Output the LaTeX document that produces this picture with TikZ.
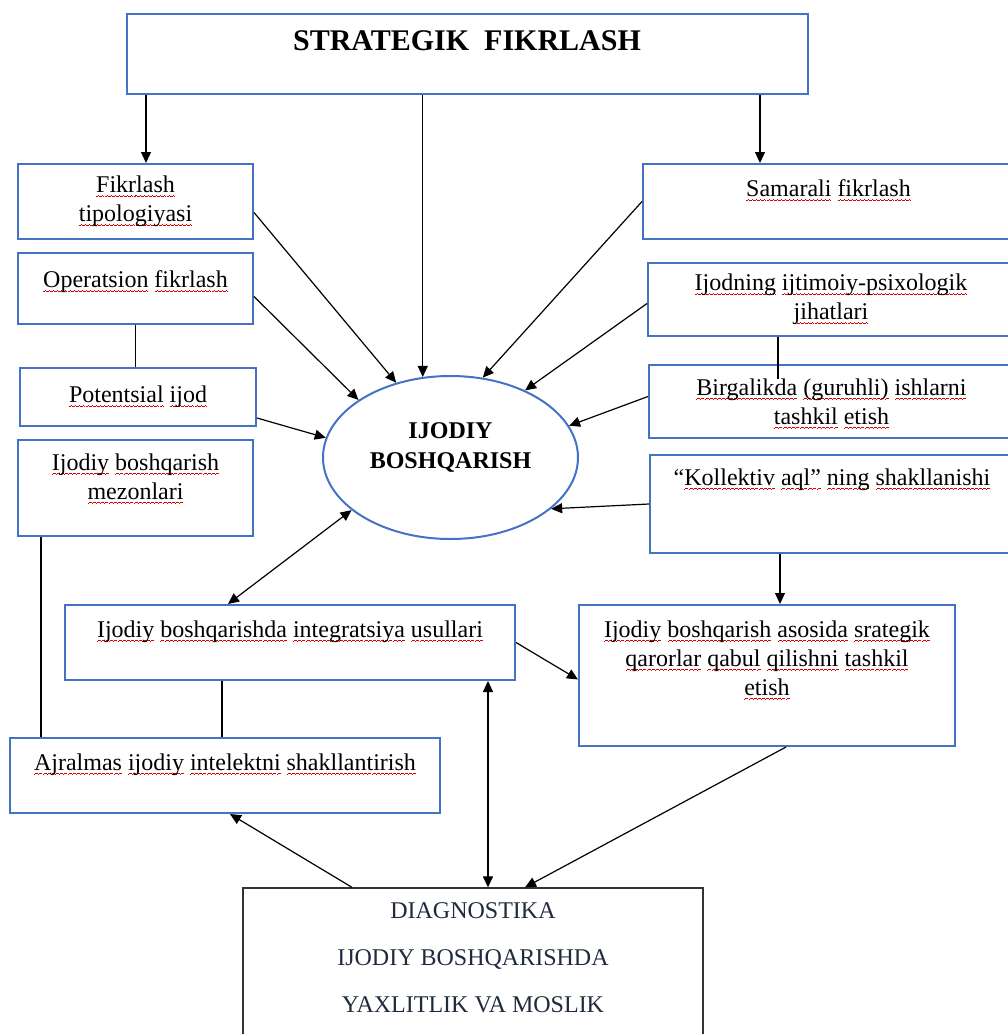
\documentclass[tikz,border=0pt]{standalone}
\usepackage{fontspec}
\setmainfont{Liberation Serif}
\usetikzlibrary{arrows.meta,positioning,shapes.geometric}
\definecolor{boxblue}{HTML}{4472C4}
\definecolor{diagtext}{HTML}{1F2A3C}
\newsavebox\wavebox
\newcommand\wavecell{\hbox{\vrule width 1pt height 0.8pt depth 0pt\vrule width 1pt height 1.5pt depth -0.7pt\vrule width 1pt height 2.2pt depth -1.4pt\vrule width 1pt height 1.5pt depth -0.7pt}}
\newcommand\redwave[1]{\leavevmode\sbox\wavebox{#1}\rlap{\raisebox{-4.5pt}[0pt][0pt]{\hbox to\wd\wavebox{\color{red!85!black}\xleaders\wavecell\hfill}}}\usebox\wavebox}

\tikzset{
  box/.style={draw=boxblue, line width=2pt, rectangle, inner sep=0pt},
  txt/.style={font=\fontsize{24}{29}\selectfont, align=center, inner sep=0pt},
}

\begin{document}
\begin{tikzpicture}[x=1pt, y=-1pt, >={Triangle[length=11pt,width=10pt]}, line width=1.2pt]
\useasboundingbox (0,0) rectangle (1008,1034);

% top box
\node[box, minimum width=681pt, minimum height=80pt] (strat) at (467,54) {};
\node[txt, font=\fontsize{30}{36}\selectfont\bfseries, below=17pt of strat.north] (stratT) {STRATEGIK\ \ FIKRLASH};

% left column
\node[box, txt, minimum width=235pt, minimum height=75pt] (fik) at (135.5,201.5) {\redwave{Fikrlash}\\\redwave{tipologiyasi}};
\node[box, minimum width=235pt, minimum height=71pt] (oper) at (135.5,288.5) {};
\node[txt, below=18pt of oper.north] (operT) {\redwave{Operatsion} \redwave{fikrlash}};
\node[box, txt, minimum width=236pt, minimum height=58pt] (pot) at (138,397) {\redwave{Potentsial} \redwave{ijod}};
\node[box, minimum width=235pt, minimum height=96pt] (mez) at (135.5,488) {};
\node[txt, below=14pt of mez.north] (mezT) {\redwave{Ijodiy} \redwave{boshqarish}\\\redwave{mezonlari}};

% centre
\node[draw=boxblue, line width=2pt, ellipse, minimum width=255pt, minimum height=163pt] (ijod) at (450.5,457.5) {};
\node[txt, font=\fontsize{24}{30}\selectfont\bfseries] (ijodT) at ([yshift=10pt]ijod.center) {IJODIY\\BOSHQARISH};

% right column
\node[box, minimum width=371pt, minimum height=75pt] (sam) at (828.5,201.5) {};
\node[txt, below=16pt of sam.north] (samT) {\redwave{Samarali} \redwave{fikrlash}};
\node[box, txt, minimum width=366pt, minimum height=73pt] (ijn) at (831,299.5) {\redwave{Ijodning} \redwave{ijtimoiy-psixologik}\\\redwave{jihatlari}};
\node[box, txt, minimum width=365pt, minimum height=73pt] (bir) at (831.5,401.5) {\redwave{Birgalikda} \redwave{(guruhli)} \redwave{ishlarni}\\\redwave{tashkil} \redwave{etish}};
\node[box, minimum width=364pt, minimum height=98pt] (kol) at (832,504) {};
\node[txt, below=14pt of kol.north] (kolT) {“\redwave{Kollektiv} \redwave{aql”} \redwave{ning} \redwave{shakllanishi}};

% lower part
\node[box, minimum width=450pt, minimum height=75pt] (integ) at (290,642.5) {};
\node[txt, below=16pt of integ.north] (integT) {\redwave{Ijodiy} \redwave{boshqarishda} \redwave{integratsiya} \redwave{usullari}};
\node[box, minimum width=376pt, minimum height=141pt] (asos) at (767,675.5) {};
\node[txt, below=16pt of asos.north] (asosT) {\redwave{Ijodiy} \redwave{boshqarish} \redwave{asosida} \redwave{srategik}\\\redwave{qarorlar} \redwave{qabul} \redwave{qilishni} \redwave{tashkil}\\\redwave{etish}};
\node[box, minimum width=430pt, minimum height=75pt] (ajr) at (225,775.5) {};
\node[txt, below=16pt of ajr.north] (ajrT) {\redwave{Ajralmas} \redwave{ijodiy} \redwave{intelektni} \redwave{shakllantirish}};
\node[draw=black!80, line width=1.3pt, minimum width=460pt, minimum height=160pt] (diag) at (473,968) {};
\node[txt, text=diagtext, font=\fontsize{24}{47}\selectfont, below=15pt of diag.north] (diagT) {DIAGNOSTIKA\\IJODIY BOSHQARISHDA\\YAXLITLIK VA MOSLIK};

% connectors
\draw[->] ([xshift=-321pt]strat.south) -- ([xshift=-321pt]strat.south |- fik.north);
\draw[->] (ijod.109 |- strat.south) -- (ijod.109);
\draw[->] ([xshift=293pt]strat.south) -- ([xshift=293pt]strat.south |- sam.north);
\draw[->] ([yshift=-11pt]fik.east) -- (ijod.126);
\draw[->] ([yshift=-8pt]oper.east) -- (ijod.148);
\draw[->] ([yshift=-21pt]pot.east) -- (ijod.171);
\draw[->] (sam.west) -- (ijod.68);
\draw[->] ([yshift=-4pt]ijn.west) -- (ijod.42);
\draw[->] ([yshift=5pt]bir.west) -- (ijod.15);
\draw[->] (kol.west) -- (ijod.-27);
\draw (oper.south) -- (oper.south |- pot.north);
\draw ([xshift=24pt]mez.south west) -- ([xshift=24pt]mez.south west |- ajr.north);
\draw ([xshift=-68pt]integ.south) -- ([xshift=-68pt]integ.south |- ajr.north);
\draw ([xshift=-53pt]ijn.south) -- ++(0,42);
\draw[->] ([xshift=13pt]asos.north |- kol.south) -- ([xshift=13pt]asos.north);
\draw[<->] (ijod.208) -- ([xshift=-62pt]integ.north);
\draw[->] (integ.east) -- ([yshift=-4pt]asos.west);
\draw[<->] ([xshift=198pt]integ.south) -- ([xshift=198pt]integ.south |- diag.north);
\draw[->] ([xshift=19pt]asos.south) -- ([xshift=52pt]diag.north);
\draw[->] ([xshift=-121pt]diag.north) -- ([xshift=5pt]ajr.south);
\end{tikzpicture}
\end{document}
